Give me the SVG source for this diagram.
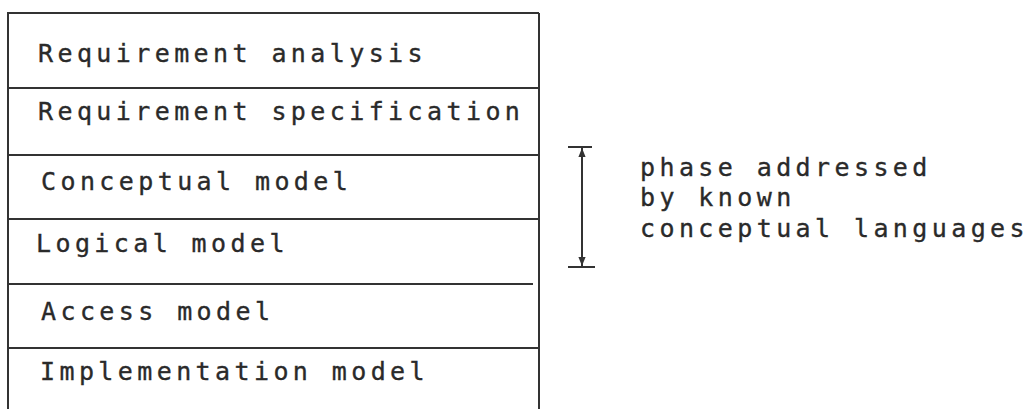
<svg xmlns="http://www.w3.org/2000/svg" width="1027" height="409" viewBox="0 0 1027 409">
  <style>
    .ln { stroke: #333; stroke-width: 2; fill: none; }
    .tx { font-family: "DejaVu Sans Mono", "Liberation Mono", monospace; font-size: 25px; letter-spacing: 4.4px; fill: #2a2a2a; stroke: #2a2a2a; stroke-width: 0.35; }
  </style>
  <defs>
    <marker id="ah" viewBox="0 0 10 10" refX="10" refY="5" markerWidth="10" markerHeight="9" orient="auto-start-reverse" markerUnits="userSpaceOnUse">
      <path d="M0,1 L10,5 L0,9 z" fill="#333"/>
    </marker>
  </defs>
  <rect width="1027" height="409" fill="#ffffff"/>
  <g id="frame">
    <line class="ln" x1="8" y1="12" x2="8" y2="409"/>
    <line class="ln" x1="539" y1="13" x2="539" y2="409"/>
    <line class="ln" x1="8" y1="13" x2="539" y2="13"/>
  </g>
  <g id="row-requirement-analysis">
    <text class="tx" x="38" y="62">Requirement analysis</text>
  </g>
  <g id="row-requirement-specification">
    <line class="ln" x1="8" y1="88" x2="539" y2="88"/>
    <text class="tx" x="38" y="120">Requirement specification</text>
  </g>
  <g id="row-conceptual-model">
    <line class="ln" x1="8" y1="155" x2="539" y2="155"/>
    <text class="tx" x="41" y="190">Conceptual model</text>
  </g>
  <g id="row-logical-model">
    <line class="ln" x1="8" y1="219" x2="539" y2="219"/>
    <text class="tx" x="36" y="252">Logical model</text>
  </g>
  <g id="row-access-model">
    <line class="ln" x1="8" y1="284" x2="533" y2="284"/>
    <text class="tx" x="41" y="320">Access model</text>
  </g>
  <g id="row-implementation-model">
    <line class="ln" x1="8" y1="348" x2="539" y2="348"/>
    <text class="tx" x="40" y="380">Implementation model</text>
  </g>
  <g id="connectors">
    <line class="ln" x1="568" y1="147" x2="592" y2="147"/>
    <line class="ln" x1="568" y1="267" x2="595" y2="267"/>
    <line class="ln" x1="582" y1="148" x2="582" y2="266" stroke-width="2.5" marker-start="url(#ah)" marker-end="url(#ah)"/>
  </g>
  <g id="annotation">
    <text class="tx" x="640" y="176">phase addressed</text>
    <text class="tx" x="640" y="206">by known</text>
    <text class="tx" x="640" y="237">conceptual languages</text>
  </g>
</svg>
